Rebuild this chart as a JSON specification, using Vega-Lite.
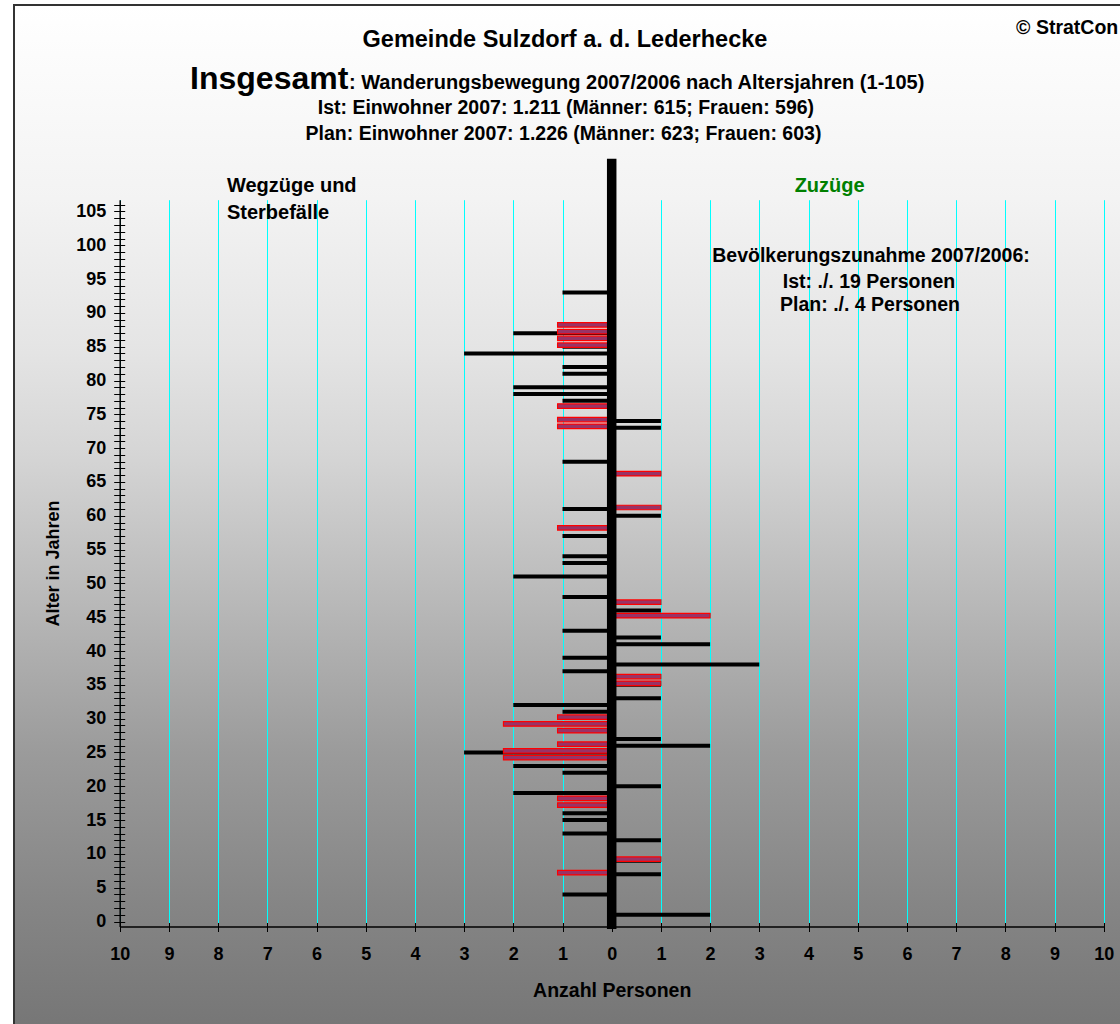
{
  "$schema": "https://vega.github.io/schema/vega-lite/v6.json",
  "width": 1110,
  "height": 1023,
  "padding": {"left": 14, "top": 5, "right": 0, "bottom": 0},
  "autosize": {"type": "none"},
  "background": "#ffffff",
  "config": {
    "font": "Liberation Sans",
    "view": {
      "fill": {
        "gradient": "linear", "x1": 0, "y1": 0, "x2": 0, "y2": 1,
        "stops": [
          {"offset": 0, "color": "#ffffff"},
          {"offset": 0.19, "color": "#f3f3f3"},
          {"offset": 0.34, "color": "#e4e4e4"},
          {"offset": 0.44, "color": "#d5d5d5"},
          {"offset": 0.585, "color": "#b8b8b8"},
          {"offset": 0.73, "color": "#9b9b9b"},
          {"offset": 0.88, "color": "#858585"},
          {"offset": 1, "color": "#767676"}
        ]
      },
      "stroke": "#333333",
      "strokeWidth": 2
    }
  },
  "resolve": {"axis": {"x": "independent", "y": "independent"}},
  "datasets": {
    "moves": [
      {"age": 93, "series": "Ist", "value": -1},
      {"age": 87, "series": "Ist", "value": -2},
      {"age": 85, "series": "Ist", "value": -1},
      {"age": 84, "series": "Ist", "value": -3},
      {"age": 82, "series": "Ist", "value": -1},
      {"age": 81, "series": "Ist", "value": -1},
      {"age": 79, "series": "Ist", "value": -2},
      {"age": 78, "series": "Ist", "value": -2},
      {"age": 77, "series": "Ist", "value": -1},
      {"age": 74, "series": "Ist", "value": 1},
      {"age": 73, "series": "Ist", "value": 1},
      {"age": 68, "series": "Ist", "value": -1},
      {"age": 61, "series": "Ist", "value": -1},
      {"age": 60, "series": "Ist", "value": 1},
      {"age": 57, "series": "Ist", "value": -1},
      {"age": 54, "series": "Ist", "value": -1},
      {"age": 53, "series": "Ist", "value": -1},
      {"age": 51, "series": "Ist", "value": -2},
      {"age": 48, "series": "Ist", "value": -1},
      {"age": 46, "series": "Ist", "value": 1},
      {"age": 43, "series": "Ist", "value": -1},
      {"age": 42, "series": "Ist", "value": 1},
      {"age": 41, "series": "Ist", "value": 2},
      {"age": 39, "series": "Ist", "value": -1},
      {"age": 38, "series": "Ist", "value": 3},
      {"age": 37, "series": "Ist", "value": -1},
      {"age": 35, "series": "Ist", "value": 1},
      {"age": 33, "series": "Ist", "value": 1},
      {"age": 32, "series": "Ist", "value": -2},
      {"age": 31, "series": "Ist", "value": -1},
      {"age": 27, "series": "Ist", "value": 1},
      {"age": 26, "series": "Ist", "value": 2},
      {"age": 25, "series": "Ist", "value": -3},
      {"age": 23, "series": "Ist", "value": -2},
      {"age": 22, "series": "Ist", "value": -1},
      {"age": 20, "series": "Ist", "value": 1},
      {"age": 19, "series": "Ist", "value": -2},
      {"age": 16, "series": "Ist", "value": -1},
      {"age": 15, "series": "Ist", "value": -1},
      {"age": 13, "series": "Ist", "value": -1},
      {"age": 12, "series": "Ist", "value": 1},
      {"age": 9, "series": "Ist", "value": 1},
      {"age": 7, "series": "Ist", "value": 1},
      {"age": 4, "series": "Ist", "value": -1},
      {"age": 1, "series": "Ist", "value": 2},
      {"age": 88, "series": "Plan", "value": -1.1},
      {"age": 87, "series": "Plan", "value": -1.1},
      {"age": 86, "series": "Plan", "value": -1.1},
      {"age": 85, "series": "Plan", "value": -1.1},
      {"age": 76, "series": "Plan", "value": -1.1},
      {"age": 74, "series": "Plan", "value": -1.1},
      {"age": 73, "series": "Plan", "value": -1.1},
      {"age": 66, "series": "Plan", "value": 1},
      {"age": 61, "series": "Plan", "value": 1},
      {"age": 58, "series": "Plan", "value": -1.1},
      {"age": 47, "series": "Plan", "value": 1},
      {"age": 45, "series": "Plan", "value": 2},
      {"age": 36, "series": "Plan", "value": 1},
      {"age": 35, "series": "Plan", "value": 1},
      {"age": 30, "series": "Plan", "value": -1.1},
      {"age": 29, "series": "Plan", "value": -2.2},
      {"age": 28, "series": "Plan", "value": -1.1},
      {"age": 26, "series": "Plan", "value": -1.1},
      {"age": 25, "series": "Plan", "value": -2.2},
      {"age": 24, "series": "Plan", "value": -2.2},
      {"age": 18, "series": "Plan", "value": -1.1},
      {"age": 17, "series": "Plan", "value": -1.1},
      {"age": 9, "series": "Plan", "value": 1},
      {"age": 7, "series": "Plan", "value": -1.1}
    ]
  },
  "layer": [
    {
      "data": {"name": "moves"},
      "transform": [{"filter": "datum.series === 'Ist'"}],
      "mark": {"type": "bar", "color": "#000000", "height": 4},
      "encoding": {
        "x": {
          "field": "value", "type": "quantitative",
          "scale": {"domain": [-10, 10], "range": [105.7, 1089.7], "nice": false, "zero": false},
          "axis": {
            "orient": "bottom", "offset": -101.5,
            "values": [-10, -9, -8, -7, -6, -5, -4, -3, -2, -1, 0, 1, 2, 3, 4, 5, 6, 7, 8, 9, 10],
            "tickCount": 40,
            "labelExpr": "abs(datum.value)",
            "labelOverlap": false, "labelFlush": false,
            "title": "Anzahl Personen",
            "grid": false,
            "domainColor": "#000000", "domainWidth": 1.5,
            "tickColor": "#000000", "tickSize": 5, "tickWidth": 1,
            "labelFontSize": 18, "labelFontWeight": "bold", "labelColor": "#000000", "labelPadding": 14,
            "titleFontSize": 19.5, "titleFontWeight": "bold", "titleColor": "#000000", "titlePadding": 18
          }
        },
        "x2": {"datum": 0},
        "y": {
          "field": "age", "type": "quantitative",
          "scale": {"domain": [0, 106], "range": [921.5, 194.7], "nice": false, "zero": false},
          "axis": {
            "orient": "left", "offset": -105.7,
            "values": [0,1,2,3,4,5,6,7,8,9,10,11,12,13,14,15,16,17,18,19,20,21,22,23,24,25,26,27,28,29,30,31,32,33,34,35,36,37,38,39,40,41,42,43,44,45,46,47,48,49,50,51,52,53,54,55,56,57,58,59,60,61,62,63,64,65,66,67,68,69,70,71,72,73,74,75,76,77,78,79,80,81,82,83,84,85,86,87,88,89,90,91,92,93,94,95,96,97,98,99,100,101,102,103,104,105,106],
            "tickCount": 200,
            "labelExpr": "datum.value % 5 === 0 ? datum.value : ''",
            "labelOverlap": false, "labelFlush": false,
            "title": "Alter in Jahren",
            "grid": false,
            "domainColor": "#000000", "domainWidth": 1.5,
            "tickColor": "#000000", "tickSize": 6, "tickWidth": 1,
            "labelFontSize": 18, "labelFontWeight": "bold", "labelColor": "#000000", "labelPadding": 8,
            "titleFontSize": 18, "titleFontWeight": "bold", "titleColor": "#000000", "titlePadding": 13
          }
        }
      }
    },
    {
      "data": {"name": "moves"},
      "transform": [{"filter": "datum.series === 'Plan'"}],
      "mark": {"type": "bar", "fill": "#993366", "stroke": "#ff0000", "strokeWidth": 1.2, "height": 4.5, "yOffset": -1.5},
      "encoding": {
        "x": {
          "field": "value", "type": "quantitative",
          "axis": {
            "orient": "top", "offset": 0,
            "values": [-10, -9, -8, -7, -6, -5, -4, -3, -2, -1, 0, 1, 2, 3, 4, 5, 6, 7, 8, 9, 10],
            "tickCount": 40,
            "grid": true, "gridColor": "#00ffff", "gridOpacity": 1, "gridWidth": 1,
            "domain": false, "ticks": false, "labels": false, "title": null
          }
        },
        "x2": {"datum": 0},
        "y": {"field": "age", "type": "quantitative", "axis": null}
      }
    },
    {
      "data": {"values": [{}]},
      "mark": {"type": "rule", "color": "#000000", "strokeWidth": 9.5},
      "encoding": {
        "x": {
          "datum": 0, "type": "quantitative",
          "axis": {
            "orient": "bottom", "offset": -105.5,
            "values": [-10, -9, -8, -7, -6, -5, -4, -3, -2, -1, 0, 1, 2, 3, 4, 5, 6, 7, 8, 9, 10],
            "tickCount": 40,
            "grid": false, "domain": false, "labels": false, "title": null,
            "ticks": true, "tickSize": 4, "tickColor": "#000000", "tickWidth": 1
          }
        },
        "y": {
          "datum": 112.8, "type": "quantitative",
          "axis": {
            "orient": "left", "offset": -110.7,
            "values": [0,1,2,3,4,5,6,7,8,9,10,11,12,13,14,15,16,17,18,19,20,21,22,23,24,25,26,27,28,29,30,31,32,33,34,35,36,37,38,39,40,41,42,43,44,45,46,47,48,49,50,51,52,53,54,55,56,57,58,59,60,61,62,63,64,65,66,67,68,69,70,71,72,73,74,75,76,77,78,79,80,81,82,83,84,85,86,87,88,89,90,91,92,93,94,95,96,97,98,99,100,101,102,103,104,105,106],
            "tickCount": 200,
            "grid": false, "domain": false, "labels": false, "title": null,
            "ticks": true, "tickSize": 5, "tickColor": "#000000", "tickWidth": 1
          }
        },
        "y2": {"datum": -1.1}
      }
    },
    {
      "data": {"values": [{}]},
      "mark": {"type": "text", "text": "Gemeinde Sulzdorf a. d. Lederhecke", "fontSize": 23.5, "fontWeight": "bold", "align": "center", "baseline": "middle", "color": "#000000"},
      "encoding": {"x": {"datum": -0.95, "type": "quantitative", "axis": null}, "y": {"datum": 130.3, "type": "quantitative", "axis": null}}
    },
    {
      "data": {"values": [{}]},
      "mark": {"type": "text", "text": "Insgesamt", "fontSize": 32, "fontWeight": "bold", "align": "left", "baseline": "alphabetic", "color": "#000000"},
      "encoding": {"x": {"datum": -8.57, "type": "quantitative", "axis": null}, "y": {"datum": 123.1, "type": "quantitative", "axis": null}}
    },
    {
      "data": {"values": [{}]},
      "mark": {"type": "text", "text": ": Wanderungsbewegung 2007/2006 nach Altersjahren (1-105)", "fontSize": 20, "fontWeight": "bold", "align": "left", "baseline": "alphabetic", "color": "#000000"},
      "encoding": {"x": {"datum": -5.34, "type": "quantitative", "axis": null}, "y": {"datum": 123.1, "type": "quantitative", "axis": null}}
    },
    {
      "data": {"values": [{}]},
      "mark": {"type": "text", "text": "Ist:  Einwohner 2007: 1.211 (Männer: 615; Frauen: 596)", "fontSize": 19.5, "fontWeight": "bold", "align": "center", "baseline": "middle", "color": "#000000"},
      "encoding": {"x": {"datum": -0.93, "type": "quantitative", "axis": null}, "y": {"datum": 120.3, "type": "quantitative", "axis": null}}
    },
    {
      "data": {"values": [{}]},
      "mark": {"type": "text", "text": "Plan: Einwohner 2007: 1.226  (Männer: 623; Frauen: 603)", "fontSize": 19.5, "fontWeight": "bold", "align": "center", "baseline": "middle", "color": "#000000"},
      "encoding": {"x": {"datum": -0.98, "type": "quantitative", "axis": null}, "y": {"datum": 116.5, "type": "quantitative", "axis": null}}
    },
    {
      "data": {"values": [{}]},
      "mark": {"type": "text", "text": "© StratCon", "fontSize": 19.5, "fontWeight": "bold", "align": "left", "baseline": "middle", "color": "#000000"},
      "encoding": {"x": {"datum": 8.22, "type": "quantitative", "axis": null}, "y": {"datum": 132.1, "type": "quantitative", "axis": null}}
    },
    {
      "data": {"values": [{}]},
      "mark": {"type": "text", "text": "Wegzüge und", "fontSize": 20, "fontWeight": "bold", "align": "left", "baseline": "middle", "color": "#000000"},
      "encoding": {"x": {"datum": -7.82, "type": "quantitative", "axis": null}, "y": {"datum": 108.8, "type": "quantitative", "axis": null}}
    },
    {
      "data": {"values": [{}]},
      "mark": {"type": "text", "text": "Sterbefälle", "fontSize": 20, "fontWeight": "bold", "align": "left", "baseline": "middle", "color": "#000000"},
      "encoding": {"x": {"datum": -7.82, "type": "quantitative", "axis": null}, "y": {"datum": 104.7, "type": "quantitative", "axis": null}}
    },
    {
      "data": {"values": [{}]},
      "mark": {"type": "text", "text": "Zuzüge", "fontSize": 20, "fontWeight": "bold", "align": "center", "baseline": "middle", "color": "#008000"},
      "encoding": {"x": {"datum": 4.43, "type": "quantitative", "axis": null}, "y": {"datum": 108.8, "type": "quantitative", "axis": null}}
    },
    {
      "data": {"values": [{}]},
      "mark": {"type": "text", "text": "Bevölkerungszunahme 2007/2006:", "fontSize": 19.5, "fontWeight": "bold", "align": "center", "baseline": "middle", "color": "#000000"},
      "encoding": {"x": {"datum": 5.27, "type": "quantitative", "axis": null}, "y": {"datum": 98.4, "type": "quantitative", "axis": null}}
    },
    {
      "data": {"values": [{}]},
      "mark": {"type": "text", "text": "Ist: ./. 19 Personen", "fontSize": 19.5, "fontWeight": "bold", "align": "center", "baseline": "middle", "color": "#000000"},
      "encoding": {"x": {"datum": 5.23, "type": "quantitative", "axis": null}, "y": {"datum": 94.6, "type": "quantitative", "axis": null}}
    },
    {
      "data": {"values": [{}]},
      "mark": {"type": "text", "text": "Plan: ./. 4 Personen", "fontSize": 19.5, "fontWeight": "bold", "align": "center", "baseline": "middle", "color": "#000000"},
      "encoding": {"x": {"datum": 5.25, "type": "quantitative", "axis": null}, "y": {"datum": 91.1, "type": "quantitative", "axis": null}}
    }
  ]
}
